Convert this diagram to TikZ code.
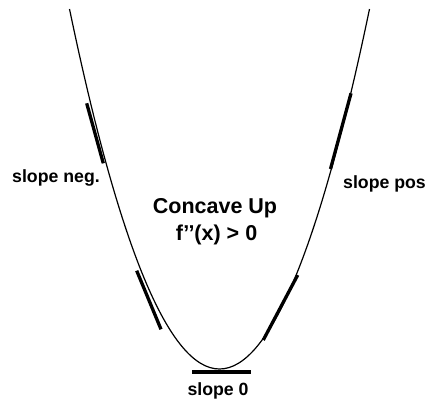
\documentclass[tikz,border=0pt]{standalone}
\usepackage{fontspec}
\setmainfont{Liberation Sans}
\begin{document}
\begin{tikzpicture}[x=1pt,y=-1pt,
  curve/.style={line width=1.2pt},
  tangent/.style={line width=3.3pt},
  lbl/.style={font=\bfseries\fontsize{17.7}{20}\selectfont, inner sep=0pt, anchor=base},
  ttl/.style={font=\bfseries\fontsize{21.5}{24}\selectfont, inner sep=0pt, anchor=base}]
\useasboundingbox (0,0) rectangle (428,400);
% parabola (exact as cubic Bezier)
\coordinate (L) at (69.5,9);
\coordinate (R) at (369.5,9);
\draw[curve] (L) .. controls (169.5,489) and (269.5,489) .. (R);
% tangent segments
\coordinate (t1a) at (86.7,103.3);  \coordinate (t1b) at (103.3,163.3);
\coordinate (t2a) at (136.7,270.7); \coordinate (t2b) at (161,329.3);
\coordinate (t3a) at (297.7,275);   \coordinate (t3b) at (263.3,340);
\coordinate (t4a) at (351,93.3);    \coordinate (t4b) at (330.5,169);
\coordinate (t0a) at (192,372);     \coordinate (t0b) at (251,372);
\draw[tangent] (t1a) -- (t1b);
\draw[tangent] (t2a) -- (t2b);
\draw[tangent] (t3a) -- (t3b);
\draw[tangent] (t4a) -- (t4b);
\draw[tangent] (t0a) -- (t0b);
% labels
\node[lbl] (neg) at (56,182) {slope neg.};
\node[lbl] (pos) at (384.5,188) {slope pos};
\node[lbl] (zero) at (218,395) {slope 0};
\node[ttl] (cu) at (215,213) {Concave Up};
\node[ttl] (fpp) at (216.5,240) {f{’}{’}(x) > 0};
\end{tikzpicture}
\end{document}
